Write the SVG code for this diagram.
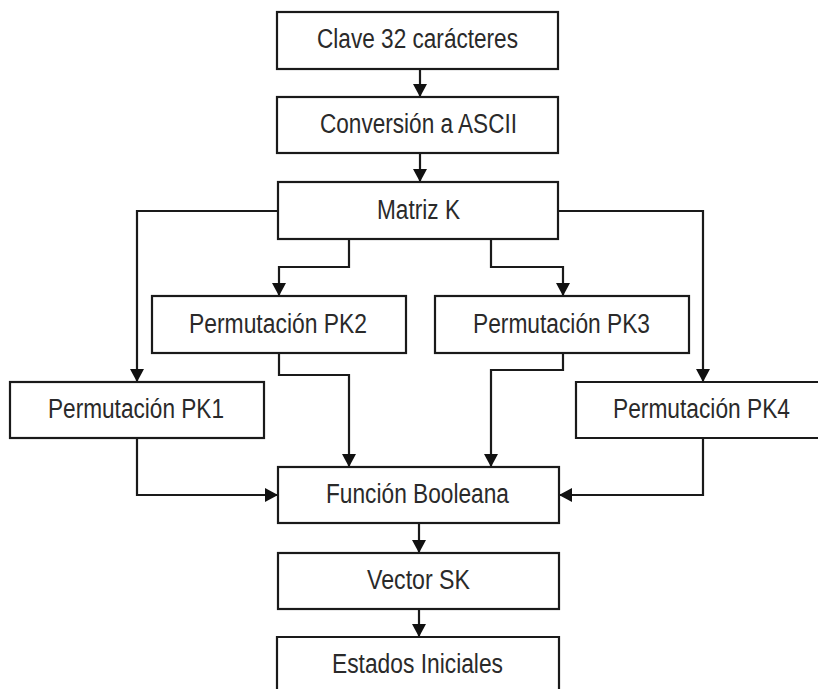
<svg xmlns="http://www.w3.org/2000/svg" width="818" height="689" viewBox="0 0 818 689">
<style>
.box{fill:#fff;stroke:#1a1a1a;stroke-width:2.2}
.lbl{font-family:"Liberation Sans",Arial,sans-serif;font-size:27px;fill:#2a2a2a;text-anchor:middle}
.cn{fill:none;stroke:#1a1a1a;stroke-width:2.2;marker-end:url(#ah)}
</style>
<defs>
<marker id="ah" viewBox="0 0 13 14" refX="13" refY="7" markerWidth="13" markerHeight="14" markerUnits="userSpaceOnUse" orient="auto">
<path d="M0,0 L13,7 L0,14 Z" fill="#111"/>
</marker>
</defs>
<rect width="818" height="689" fill="#fff"/>
<g id="connectors">
<path class="cn" d="M420,69 V97"/>
<path class="cn" d="M420,153 V182"/>
<path class="cn" d="M278,211 H137 V382"/>
<path class="cn" d="M349,239 V267 H279 V296"/>
<path class="cn" d="M491,239 V267 H563 V296"/>
<path class="cn" d="M558,211 H703 V382"/>
<path class="cn" d="M137,438 V495 H278"/>
<path class="cn" d="M279,353 V375 H349 V467"/>
<path class="cn" d="M563,353 V370 H491 V467"/>
<path class="cn" d="M703,438 V495 H559"/>
<path class="cn" d="M419,523 V553"/>
<path class="cn" d="M419,609 V637"/>
</g>
<g id="clave"><rect class="box" x="277" y="12" width="281" height="57"/><text class="lbl" x="417.5" y="48" textLength="201" lengthAdjust="spacingAndGlyphs">Clave 32 carácteres</text></g>
<g id="conversion"><rect class="box" x="277" y="97" width="281" height="56"/><text class="lbl" x="418.5" y="133" textLength="197" lengthAdjust="spacingAndGlyphs">Conversión a ASCII</text></g>
<g id="matriz"><rect class="box" x="278" y="182" width="280" height="57"/><text class="lbl" x="418.5" y="219" textLength="83" lengthAdjust="spacingAndGlyphs">Matriz K</text></g>
<g id="pk2"><rect class="box" x="152" y="296" width="254" height="57"/><text class="lbl" x="278" y="333" textLength="178" lengthAdjust="spacingAndGlyphs">Permutación PK2</text></g>
<g id="pk3"><rect class="box" x="435" y="296" width="254" height="57"/><text class="lbl" x="561.5" y="333" textLength="177" lengthAdjust="spacingAndGlyphs">Permutación PK3</text></g>
<g id="pk1"><rect class="box" x="10" y="382" width="254" height="56"/><text class="lbl" x="136" y="418" textLength="176" lengthAdjust="spacingAndGlyphs">Permutación PK1</text></g>
<g id="pk4"><path class="box" d="M818,382 H576 V438 H818"/><text class="lbl" x="701.5" y="418" textLength="177" lengthAdjust="spacingAndGlyphs">Permutación PK4</text></g>
<g id="funcion"><rect class="box" x="278" y="467" width="281" height="56"/><text class="lbl" x="417.5" y="503" textLength="183" lengthAdjust="spacingAndGlyphs">Función Booleana</text></g>
<g id="vector"><rect class="box" x="278" y="553" width="281" height="56"/><text class="lbl" x="418.5" y="589" textLength="103" lengthAdjust="spacingAndGlyphs">Vector SK</text></g>
<g id="estados"><path class="box" d="M277,689 V637 H559 V689"/><text class="lbl" x="417.5" y="673" textLength="171" lengthAdjust="spacingAndGlyphs">Estados Iniciales</text></g>
</svg>
